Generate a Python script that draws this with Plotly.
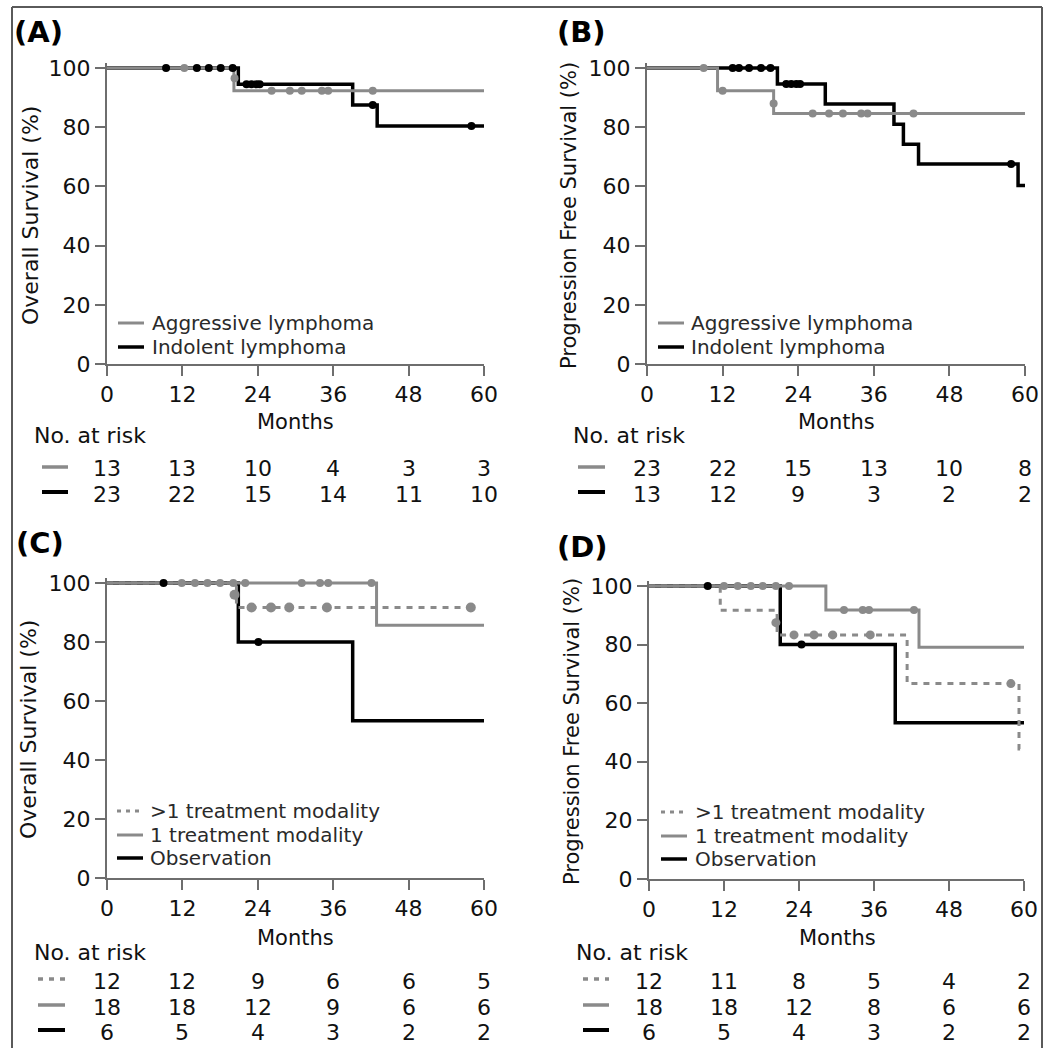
import plotly.graph_objects as go

# ---------------- data ----------------
MONTH_TICKS = [0, 12, 24, 36, 48, 60]
SURV_TICKS = [0, 20, 40, 60, 80, 100]

PANEL_LABELS = ["(A)", "(B)", "(C)", "(D)"]
Y_TITLES = ["Overall Survival (%)", "Progression Free Survival (%)",
            "Overall Survival (%)", "Progression Free Survival (%)"]
X_TITLE = "Months"
RISK_TITLE = "No. at risk"
LEGEND_AB = ["Aggressive lymphoma", "Indolent lymphoma"]
LEGEND_CD = [">1 treatment modality", "1 treatment modality", "Observation"]

# Panel A - overall survival by lymphoma type
A_aggr_t = [0, 20.2, 60]
A_aggr_s = [100, 92.3, 92.3]
A_aggr_cens_t = [12.3, 20.3, 26.2, 29.1, 31.0, 34.2, 35.2, 42.3]
A_aggr_cens_s = [100, 96.5, 92.3, 92.3, 92.3, 92.3, 92.3, 92.3]
A_indo_t = [0, 20.9, 39.1, 43.0, 60]
A_indo_s = [100, 94.5, 87.5, 80.4, 80.4]
A_indo_cens_t = [9.4, 14.3, 16.2, 18.1, 20.0, 22.2, 23.0, 23.8, 24.3, 42.3, 58.0]
A_indo_cens_s = [100, 100, 100, 100, 100, 94.5, 94.5, 94.5, 94.5, 87.5, 80.4]
A_risk_aggr = [13, 13, 10, 4, 3, 3]
A_risk_indo = [23, 22, 15, 14, 11, 10]

# Panel B - progression free survival by lymphoma type
B_aggr_t = [0, 11.2, 20.1, 60]
B_aggr_s = [100, 92.3, 84.6, 84.6]
B_aggr_cens_t = [9.0, 12.0, 20.1, 26.3, 28.9, 31.1, 34.0, 35.0, 42.3]
B_aggr_cens_s = [100, 92.3, 88.0, 84.6, 84.6, 84.6, 84.6, 84.6, 84.6]
B_indo_t = [0, 20.7, 28.3, 39.2, 40.7, 43.1, 58.9, 60]
B_indo_s = [100, 94.6, 87.8, 81.0, 74.2, 67.6, 60.3, 60.3]
B_indo_cens_t = [13.6, 14.6, 16.2, 18.1, 19.6, 22.1, 22.9, 23.7, 24.3, 57.8]
B_indo_cens_s = [100, 100, 100, 100, 100, 94.6, 94.6, 94.6, 94.6, 67.6]
B_risk_aggr = [23, 22, 15, 13, 10, 8]
B_risk_indo = [13, 12, 9, 3, 2, 2]

# Panel C - overall survival by treatment
C_multi_t = [0, 20.6, 59.0]
C_multi_s = [100, 91.7, 91.7]
C_multi_cens_t = [20.3, 23.0, 26.1, 29.0, 35.0, 57.9]
C_multi_cens_s = [96.0, 91.7, 91.7, 91.7, 91.7, 91.7]
C_single_t = [0, 42.9, 60]
C_single_s = [100, 85.7, 85.7]
C_single_cens_t = [11.9, 14.0, 16.0, 18.0, 20.1, 22.0, 31.0, 33.9, 35.2, 42.1]
C_single_cens_s = [100, 100, 100, 100, 100, 100, 100, 100, 100, 100]
C_obs_t = [0, 20.9, 39.1, 60]
C_obs_s = [100, 80.0, 53.3, 53.3]
C_obs_cens_t = [9.0, 24.1]
C_obs_cens_s = [100, 80.0]
C_risk_multi = [12, 12, 9, 6, 6, 5]
C_risk_single = [18, 18, 12, 9, 6, 6]
C_risk_obs = [6, 5, 4, 3, 2, 2]

# Panel D - progression free survival by treatment
D_multi_t = [0, 11.4, 20.5, 41.3, 59.2, 59.6]
D_multi_s = [100, 91.7, 83.3, 66.7, 44.4, 44.4]
D_multi_cens_t = [20.3, 23.2, 26.4, 29.4, 35.4, 57.9]
D_multi_cens_s = [87.5, 83.3, 83.3, 83.3, 83.3, 66.7]
D_single_t = [0, 28.3, 43.2, 60]
D_single_s = [100, 91.8, 79.1, 79.1]
D_single_cens_t = [12.0, 14.2, 16.3, 18.2, 20.3, 22.4, 31.2, 34.2, 35.2, 42.4]
D_single_cens_s = [100, 100, 100, 100, 100, 100, 91.8, 91.8, 91.8, 91.8]
D_obs_t = [0, 21.0, 39.4, 60]
D_obs_s = [100, 80.0, 53.3, 53.3]
D_obs_cens_t = [9.4, 24.4]
D_obs_cens_s = [100, 80.0]
D_risk_multi = [12, 11, 8, 5, 4, 2]
D_risk_single = [18, 18, 12, 8, 6, 6]
D_risk_obs = [6, 5, 4, 3, 2, 2]

# ---------------- styling / geometry ----------------
W, H = 1062, 1048
FONT = "DejaVu Sans"
GRAY = "#8a8a8a"
BLACK = "#000000"
AXIS = "#6e6e6e"
TXT = "#111111"
LEG_TXT = "#2a2a2a"
DASH = "6px,6px"
YMAX = 101.8


def PX(px):
    return px / W


def PY(py):
    return 1 - py / H


# pixel geometry of each panel
GEOM = [
    dict(x0=107, x60=484, y0=364, y100=68, lab=(12, 32), ytit=(30, 216, 22), xtit=(295, 422),
         risk_title=(32, 436), risk_rows=[469, 494], risk_sample=(42, 68),
         leg_sample=(118, 144), leg_text=150, leg_rows=[323, 347]),
    dict(x0=647, x60=1025, y0=364, y100=68, lab=(555, 32), ytit=(569, 216, 21), xtit=(836, 422),
         risk_title=(571, 436), risk_rows=[469, 494], risk_sample=(578, 605),
         leg_sample=(658, 684), leg_text=689, leg_rows=[323, 347]),
    dict(x0=107, x60=484, y0=878, y100=583, lab=(14, 543), ytit=(28, 730, 22), xtit=(295, 938),
         risk_title=(32, 952), risk_rows=[981, 1007, 1032], risk_sample=(38, 65),
         leg_sample=(117, 143), leg_text=148, leg_rows=[811, 835, 858]),
    dict(x0=649, x60=1024, y0=879, y100=586, lab=(555, 547), ytit=(572, 732, 21), xtit=(837, 938),
         risk_title=(574, 952), risk_rows=[981, 1007, 1032], risk_sample=(583, 609),
         leg_sample=(661, 687), leg_text=693, leg_rows=[812, 836, 859]),
]

# series per panel: (t, s, cens_t, cens_s, color, width, dash, marker size, risk)
SERIES = [
    [(A_indo_t, A_indo_s, A_indo_cens_t, A_indo_cens_s, BLACK, 3.5, None, 8, A_risk_indo),
     (A_aggr_t, A_aggr_s, A_aggr_cens_t, A_aggr_cens_s, GRAY, 3, None, 8, A_risk_aggr)],
    [(B_indo_t, B_indo_s, B_indo_cens_t, B_indo_cens_s, BLACK, 3.5, None, 8, B_risk_indo),
     (B_aggr_t, B_aggr_s, B_aggr_cens_t, B_aggr_cens_s, GRAY, 3, None, 8, B_risk_aggr)],
    [(C_obs_t, C_obs_s, C_obs_cens_t, C_obs_cens_s, BLACK, 3.5, None, 8, C_risk_obs),
     (C_multi_t, C_multi_s, C_multi_cens_t, C_multi_cens_s, GRAY, 3, DASH, 10, C_risk_multi),
     (C_single_t, C_single_s, C_single_cens_t, C_single_cens_s, GRAY, 3, None, 8, C_risk_single)],
    [(D_obs_t, D_obs_s, D_obs_cens_t, D_obs_cens_s, BLACK, 3.5, None, 8, D_risk_obs),
     (D_multi_t, D_multi_s, D_multi_cens_t, D_multi_cens_s, GRAY, 3, DASH, 9, D_risk_multi),
     (D_single_t, D_single_s, D_single_cens_t, D_single_cens_s, GRAY, 3, None, 8, D_risk_single)],
]

# order of rows in the legend / risk table (index into SERIES list)
ROW_ORDER = [[1, 0], [1, 0], [1, 2, 0], [1, 2, 0]]
LEGENDS = [LEGEND_AB, LEGEND_AB, LEGEND_CD, LEGEND_CD]

fig = go.Figure()
annotations = []
shapes = []

for i, g in enumerate(GEOM):
    xa = "x" if i == 0 else f"x{i + 1}"
    ya = "y" if i == 0 else f"y{i + 1}"
    xkey = "xaxis" if i == 0 else f"xaxis{i + 1}"
    ykey = "yaxis" if i == 0 else f"yaxis{i + 1}"
    top_px = g["y100"] - (YMAX - 100) / 100 * (g["y0"] - g["y100"])

    fig.update_layout(**{
        xkey: dict(domain=[PX(g["x0"]), PX(g["x60"])], range=[0, 60], anchor=ya,
                   tickvals=MONTH_TICKS, ticks="outside", ticklen=10, tickwidth=2,
                   tickcolor=AXIS, showline=True, linecolor=AXIS, linewidth=2,
                   showgrid=False, zeroline=False, automargin=False, fixedrange=True,
                   tickfont=dict(family=FONT, size=22, color=TXT)),
        ykey: dict(domain=[PY(g["y0"]), PY(top_px)], range=[0, YMAX], anchor=xa,
                   tickvals=SURV_TICKS, ticks="outside", ticklen=10, tickwidth=2,
                   tickcolor=AXIS, showline=True, linecolor=AXIS, linewidth=2,
                   showgrid=False, zeroline=False, automargin=False, fixedrange=True,
                   tickfont=dict(family=FONT, size=22, color=TXT)),
    })

    # step curves
    for (t, s, ct, cs, col, w, dash, ms, risk) in SERIES[i]:
        fig.add_trace(go.Scatter(x=t, y=s, mode="lines", xaxis=xa, yaxis=ya,
                                 line=dict(shape="hv", color=col, width=w, dash=dash),
                                 showlegend=False, hoverinfo="skip"))
    # censor marks
    for (t, s, ct, cs, col, w, dash, ms, risk) in SERIES[i]:
        fig.add_trace(go.Scatter(x=ct, y=cs, mode="markers", xaxis=xa, yaxis=ya,
                                 marker=dict(size=ms, color=col, line=dict(width=0)),
                                 cliponaxis=False, showlegend=False, hoverinfo="skip"))

    # panel label
    annotations.append(dict(text="<b>" + PANEL_LABELS[i] + "</b>", x=PX(g["lab"][0]),
                            y=PY(g["lab"][1]), xref="paper", yref="paper", xanchor="left",
                            yanchor="middle", showarrow=False,
                            font=dict(family=FONT, size=29, color=BLACK)))

    # axis titles
    yt = g["ytit"]
    annotations.append(dict(text=Y_TITLES[i], x=PX(yt[0]), y=PY(yt[1]), xref="paper", yref="paper",
                            textangle=-90, showarrow=False, xanchor="center", yanchor="middle",
                            font=dict(family=FONT, size=yt[2], color=TXT)))
    annotations.append(dict(text=X_TITLE, x=PX(g["xtit"][0]), y=PY(g["xtit"][1]), xref="paper",
                            yref="paper", showarrow=False, xanchor="center", yanchor="middle",
                            font=dict(family=FONT, size=21, color=TXT)))

    # legend
    for k, idx in enumerate(ROW_ORDER[i]):
        (t, s, ct, cs, col, w, dash, ms, risk) = SERIES[i][idx]
        yy = PY(g["leg_rows"][k])
        shapes.append(dict(type="line", xref="paper", yref="paper",
                           x0=PX(g["leg_sample"][0]), x1=PX(g["leg_sample"][1]), y0=yy, y1=yy,
                           line=dict(color=col, width=w, dash=dash if dash is None else "4px,5px")))
        annotations.append(dict(text=LEGENDS[i][k], x=PX(g["leg_text"]), y=yy, xref="paper",
                                yref="paper", showarrow=False, xanchor="left", yanchor="middle",
                                font=dict(family=FONT, size=20, color=LEG_TXT)))

    # risk table
    annotations.append(dict(text=RISK_TITLE, x=PX(g["risk_title"][0]), y=PY(g["risk_title"][1]),
                            xref="paper", yref="paper", showarrow=False, xanchor="left",
                            yanchor="middle", font=dict(family=FONT, size=22, color=TXT)))
    for k, idx in enumerate(ROW_ORDER[i]):
        (t, s, ct, cs, col, w, dash, ms, risk) = SERIES[i][idx]
        yy = PY(g["risk_rows"][k])
        ys = PY(g["risk_rows"][k] - 2)
        shapes.append(dict(type="line", xref="paper", yref="paper",
                           x0=PX(g["risk_sample"][0]), x1=PX(g["risk_sample"][1]), y0=ys, y1=ys,
                           line=dict(color=col, width=w + 0.5, dash=dash if dash is None else "5px,6px")))
        for m, n in zip(MONTH_TICKS, risk):
            annotations.append(dict(text=str(n), x=m, y=yy, xref=xa, yref="paper",
                                    showarrow=False, xanchor="center", yanchor="middle",
                                    font=dict(family=FONT, size=22, color=TXT)))

# outer frame
for (x0, y0, x1, y1) in [(12, 7, 1042, 7), (12, 7, 12, 1060), (1042, 7, 1042, 1060)]:
    shapes.append(dict(type="line", xref="paper", yref="paper", x0=PX(x0), y0=PY(y0),
                       x1=PX(x1), y1=PY(y1), line=dict(color="#5a5a5a", width=2)))

fig.update_layout(width=W, height=H, margin=dict(l=0, r=0, t=0, b=0, pad=0),
                  paper_bgcolor="white", plot_bgcolor="white",
                  font=dict(family=FONT, color=TXT), hovermode=False,
                  annotations=annotations, shapes=shapes, showlegend=False)

fig.write_html("out.html", config={"displayModeBar": False, "staticPlot": True},
               post_script="document.body.style.margin='0';document.body.style.overflow='hidden';")
